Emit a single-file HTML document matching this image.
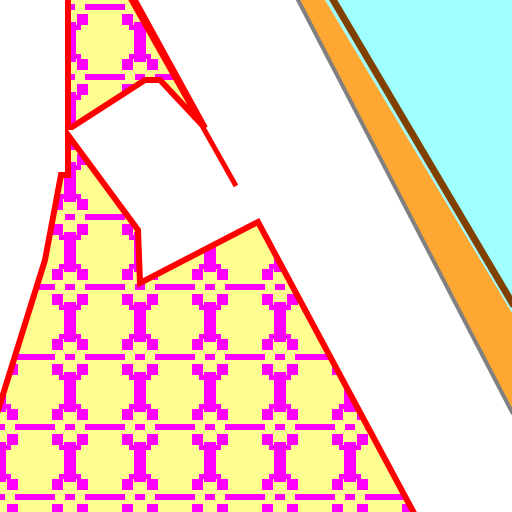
<!DOCTYPE html>
<html><head><meta charset="utf-8"><style>html,body{margin:0;padding:0;background:#fff}svg{display:block}</style></head>
<body>
<svg width="512" height="512" viewBox="0 0 512 512">
<defs>
<pattern id="tile" patternUnits="userSpaceOnUse" x="35" y="42" width="70" height="70">
<rect width="70" height="70" fill="#fefe90"/>
<g fill="#ff00ff">
<rect x="29" y="0" width="12" height="20"/>
<rect x="29" y="50" width="12" height="20"/>
<rect x="0" y="32" width="20" height="6"/>
<rect x="50" y="32" width="20" height="6"/>
<rect x="30" y="32" width="10" height="6"/>
<rect x="17" y="17" width="11" height="11"/>
<rect x="42" y="17" width="11" height="11"/>
<rect x="17" y="42" width="11" height="11"/>
<rect x="42" y="42" width="11" height="11"/>
<rect x="24" y="12" width="5" height="5"/>
<rect x="41" y="12" width="5" height="5"/>
<rect x="24" y="53" width="5" height="5"/>
<rect x="41" y="53" width="5" height="5"/>
</g>
</pattern>
</defs>
<g>
<polygon points="325,0 512,0 512,315" fill="#a0ffff"/>
<polygon points="299,0 325,0 512,313 512,412" fill="#ffa733"/>
<line x1="332" y1="-2" x2="514" y2="306" stroke="#804000" stroke-width="7"/>
<line x1="297" y1="-2" x2="513" y2="414" stroke="#808080" stroke-width="4"/>
</g>
<g stroke="#ff0000" stroke-width="6" stroke-linejoin="miter">
<polygon points="68,-5 132,-5 205,128 160,80 145,80 72,127 68,127" fill="url(#tile)"/>
<polygon points="68,135 138,230 140,283 258,222 415,515 -5,515 -5,420 45,260 61,175 68,175" fill="url(#tile)"/>
<line x1="130" y1="-2" x2="236" y2="186" stroke-width="5"/>
</g>
</svg>
</body></html>
